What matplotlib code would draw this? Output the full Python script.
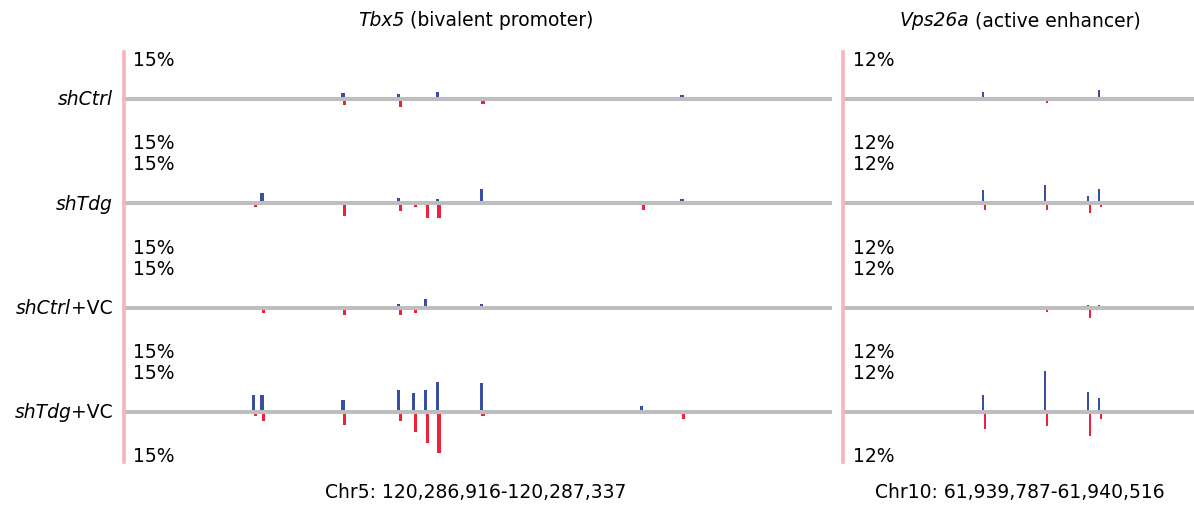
import matplotlib
matplotlib.use('Agg')
import matplotlib.pyplot as plt

plt.rcParams['font.family'] = ['DejaVu Sans']

# row labels: italic part, plain part
samples = [('shCtrl', ''), ('shTdg', ''), ('shCtrl', '+VC'), ('shTdg', '+VC')]

# Tbx5 promoter, methylation level (%) per CpG, + strand up / - strand down
tbx5_start, tbx5_end = 120286916, 120287337
tbx5_cpg = [120286994, 120286999, 120287047, 120287080, 120287089,
            120287096, 120287103, 120287129, 120287224, 120287248]
tbx5_plus = [[0, 0, 1.7, 1.3, 0, 0, 2.1, 0, 0, 1.0],
             [0, 3.0, 0, 1.5, 0, 0, 1.2, 4.4, 0, 1.2],
             [0, 0, 0, 1.0, 0, 2.6, 0, 1.0, 0, 0],
             [5.2, 5.2, 3.75, 6.7, 5.9, 6.7, 9.3, 8.9, 1.6, 0]]
tbx5_minus = [[0, 0, 2.0, 2.7, 0.9, 0, 0.9, 1.7, 0.9, 0],
              [1.2, 0, 4.0, 2.6, 1.2, 4.7, 4.7, 0, 2.2, 0],
              [0, 1.8, 2.2, 2.2, 1.8, 0, 0, 0, 0, 0],
              [1.25, 3.1, 4.3, 3.1, 6.3, 9.7, 12.9, 1.4, 0, 2.4]]

# Vps26a enhancer
vps_start, vps_end = 61939787, 61940516
vps_cpg = [61940077, 61940207, 61940296, 61940318]
vps_plus = [[1.75, 0, 0, 2.1],
            [3.2, 4.6, 1.7, 3.4],
            [0, 0, 0.7, 0.6],
            [4.2, 10.1, 4.9, 3.4]]
vps_minus = [[0, 1.1, 0, 0],
             [1.75, 1.75, 2.4, 0.9],
             [0, 1.2, 2.6, 0],
             [4.3, 3.5, 6.2, 1.75]]

BLUE = '#3a4fa0'
RED = '#ee2238'
GREY = '#bebebe'
PINK = '#f8b4b8'
FS = 13.5

W, H = 1194, 510
fig = plt.figure(figsize=(W / 100, H / 100), dpi=100)
renderer = fig.canvas.get_renderer()


def px_axes(x0, x1, y0, y1):
    return fig.add_axes([x0 / W, 1 - y1 / H, (x1 - x0) / W, (y1 - y0) / H])


def text_width(s, **kw):
    t = fig.text(0, 0, s, fontsize=FS, **kw)
    w = t.get_window_extent(renderer).width
    t.remove()
    return w


def mixed_text(x, y, it_part, rm_part, align):
    # italic gene name followed by plain text, x/y in pixels
    w_it = text_width(it_part, style='italic')
    w_rm = text_width(rm_part) if rm_part else 0
    if align == 'center':
        left = x - (w_it + w_rm) / 2
    else:
        left = x - (w_it + w_rm)
    fig.text(left / W, 1 - y / H, it_part, fontsize=FS, style='italic',
             ha='left', va='center')
    if rm_part:
        fig.text((left + w_it) / W, 1 - y / H, rm_part, fontsize=FS,
                 ha='left', va='center')


baselines = [99.5, 204, 308.5, 412.5]
half = 48

panels = [
    dict(x0=122, x1=832, pink=123.5, lim=15, start=tbx5_start, end=tbx5_end,
         cpg=tbx5_cpg, plus=tbx5_plus, minus=tbx5_minus, w=1.9, shift=1,
         lab_x=133, gene='Tbx5', desc=' (bivalent promoter)',
         coord='Chr5: 120,286,916-120,287,337', cx=476),
    dict(x0=843, x1=1194, pink=843, lim=12, start=vps_start, end=vps_end,
         cpg=vps_cpg, plus=vps_plus, minus=vps_minus, w=4.2, shift=4,
         lab_x=853, gene='Vps26a', desc=' (active enhancer)',
         coord='Chr10: 61,939,787-61,940,516', cx=1020),
]

for p in panels:
    for i, b in enumerate(baselines):
        ax = px_axes(p['x0'], p['x1'], b - half, b + half)
        ax.set_xlim(p['start'], p['end'])
        ax.set_ylim(-p['lim'], p['lim'])
        ax.axis('off')
        ax.patch.set_alpha(0)
        ax.bar(p['cpg'], p['plus'][i], width=p['w'], color=BLUE,
               linewidth=0, zorder=2)
        ax.bar([c + p['shift'] for c in p['cpg']], [-v for v in p['minus'][i]],
               width=p['w'], color=RED, linewidth=0, zorder=2)
        ax.axhline(0, color=GREY, lw=2.9, zorder=3)

        lab = '%d%%' % p['lim']
        fig.text(p['lab_x'] / W, 1 - (b - 39) / H, lab, fontsize=FS,
                 ha='left', va='center')
        fig.text(p['lab_x'] / W, 1 - (b + 44) / H, lab, fontsize=FS,
                 ha='left', va='center')

    # pink scale bar
    fr = px_axes(p['pink'], p['pink'] + 10, 53, 463)
    fr.set_zorder(5)
    fr.patch.set_alpha(0)
    fr.set_xticks([])
    fr.set_yticks([])
    for s in ['top', 'right', 'bottom']:
        fr.spines[s].set_visible(False)
    fr.spines['left'].set_color(PINK)
    fr.spines['left'].set_linewidth(2.6)

    mixed_text(p['cx'], 21, p['gene'], p['desc'], 'center')
    fig.text(p['cx'] / W, 1 - 493 / H, p['coord'], fontsize=FS,
             ha='center', va='center')

for (it_part, rm_part), b in zip(samples, baselines):
    mixed_text(113, b, it_part, rm_part, 'right')

fig.savefig('out.png', dpi=100)
